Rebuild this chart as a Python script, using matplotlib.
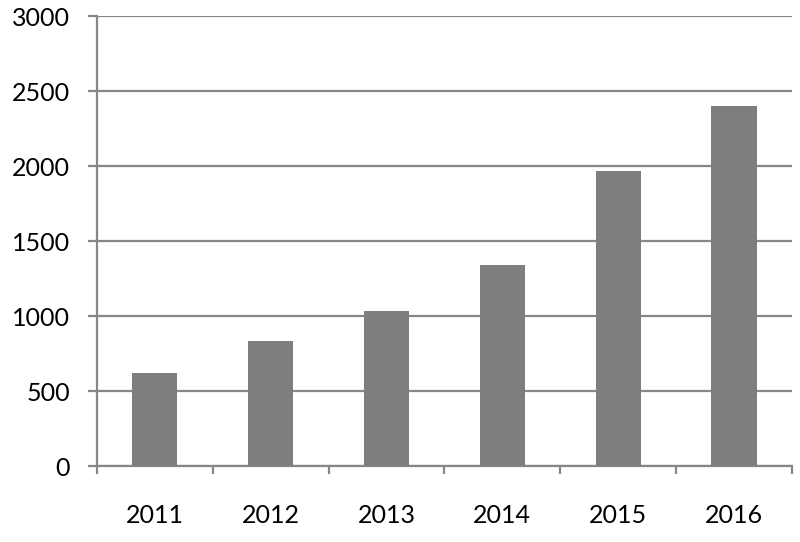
import matplotlib
matplotlib.use('Agg')
import matplotlib.pyplot as plt
import numpy as np

years = ['2011', '2012', '2013', '2014', '2015', '2016']
values = [620, 835, 1035, 1340, 1970, 2400]
yticks = [0, 500, 1000, 1500, 2000, 2500, 3000]

plt.rcParams['font.family'] = ['Lato', 'DejaVu Sans']
grey = '#878787'

fig = plt.figure(figsize=(8, 5.42), dpi=100)
ax = fig.add_axes([0.121, 0.1402, 0.869, 0.830])

x = np.arange(len(years))
ax.bar(x, values, width=0.39, color='#7f7e7c', zorder=3)

ax.set_xlim(-0.5, len(years) - 0.5)
ax.set_ylim(0, 3000)
ax.set_yticks(yticks)
ax.set_yticklabels([str(v) for v in yticks])
ax.yaxis.grid(True, color=grey, linewidth=1.6, zorder=0)

# category boundary ticks, labels centred on bars
ax.set_xticks(np.arange(-0.5, len(years), 1.0))
ax.set_xticklabels([])
ax.set_xticks(x, minor=True)
ax.set_xticklabels(years, minor=True)
ax.tick_params(axis='x', which='major', length=6, width=1.6, color=grey)
ax.tick_params(axis='x', which='minor', length=0, pad=27, labelsize=18)
ax.tick_params(axis='y', length=6.5, width=1.6, color=grey, pad=13, labelsize=18)

for s in ['top', 'right']:
    ax.spines[s].set_visible(False)
for s in ['left', 'bottom']:
    ax.spines[s].set_color(grey)
    ax.spines[s].set_linewidth(1.6)

fig.savefig('out.png', dpi=100)
